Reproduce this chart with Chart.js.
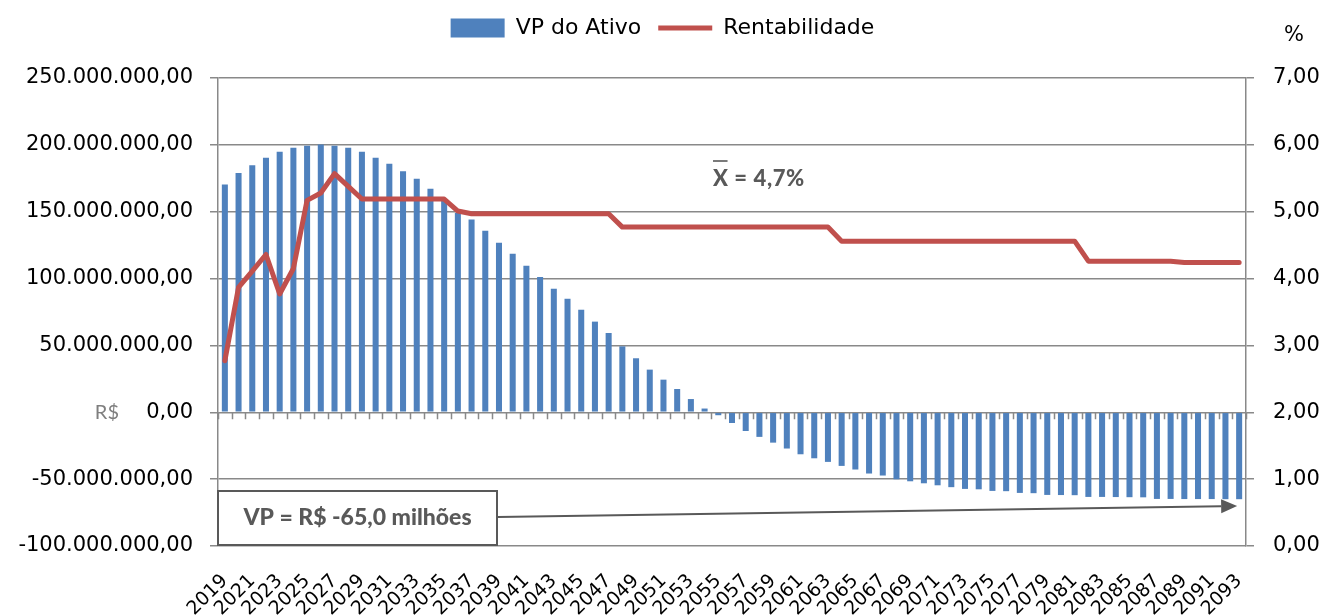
<!DOCTYPE html>
<html lang="pt-BR">
<head>
<meta charset="utf-8">
<title>VP do Ativo e Rentabilidade</title>
<script src="https://cdn.jsdelivr.net/npm/chart.js@4.4.1/dist/chart.umd.min.js"></script>
<style>
    html, body { margin: 0; padding: 0; background: #ffffff; }
    #wrap { width: 1325px; height: 615px; }
</style>
</head>
<body>
<div id="wrap"><canvas id="grafico" width="1325" height="615"></canvas></div>
<script>
const anos = [
    '2019', '2020', '2021', '2022', '2023', '2024', '2025', '2026', '2027', '2028',
    '2029', '2030', '2031', '2032', '2033', '2034', '2035', '2036', '2037', '2038',
    '2039', '2040', '2041', '2042', '2043', '2044', '2045', '2046', '2047', '2048',
    '2049', '2050', '2051', '2052', '2053', '2054', '2055', '2056', '2057', '2058',
    '2059', '2060', '2061', '2062', '2063', '2064', '2065', '2066', '2067', '2068',
    '2069', '2070', '2071', '2072', '2073', '2074', '2075', '2076', '2077', '2078',
    '2079', '2080', '2081', '2082', '2083', '2084', '2085', '2086', '2087', '2088',
    '2089', '2090', '2091', '2092', '2093',
];

// VP do Ativo, em milhoes de R$
const vpAtivo = [
    170.4, 178.9, 184.8, 190.4, 194.8, 197.8, 199.3, 200.3, 199.3, 197.8,
    194.8, 190.4, 185.9, 180.3, 174.7, 167.2, 158.0, 149.0, 144.2, 135.8,
    126.8, 118.6, 109.6, 101.1, 92.4, 84.9, 76.7, 67.8, 59.3, 49.3,
    40.4, 31.9, 24.4, 17.4, 9.9, 2.8, -2.2, -8.0, -14.0, -18.4,
    -22.7, -27.1, -31.4, -34.4, -37.1, -40.1, -42.8, -45.8, -47.3, -50.1,
    -51.6, -53.1, -54.6, -56.0, -57.3, -57.6, -58.8, -59.0, -60.3, -60.5,
    -61.8, -61.9, -62.0, -63.3, -63.3, -63.4, -63.5, -63.6, -64.8, -64.8,
    -64.9, -64.9, -64.9, -65.0, -65.0,
];

// Rentabilidade anual, em %
const rentabilidade = [
    2.77, 3.87, 4.11, 4.36, 3.77, 4.15, 5.17, 5.28, 5.57, 5.38,
    5.19, 5.19, 5.19, 5.19, 5.19, 5.19, 5.19, 5.01, 4.97, 4.97,
    4.97, 4.97, 4.97, 4.97, 4.97, 4.97, 4.97, 4.97, 4.97, 4.77,
    4.77, 4.77, 4.77, 4.77, 4.77, 4.77, 4.77, 4.77, 4.77, 4.77,
    4.77, 4.77, 4.77, 4.77, 4.77, 4.56, 4.56, 4.56, 4.56, 4.56,
    4.56, 4.56, 4.56, 4.56, 4.56, 4.56, 4.56, 4.56, 4.56, 4.56,
    4.56, 4.56, 4.56, 4.26, 4.26, 4.26, 4.26, 4.26, 4.26, 4.26,
    4.24, 4.24, 4.24, 4.24, 4.24,
];

const mediaRentabilidade = '4,7%';
const vpFinal = 'VP = R$ -65,0 milhões';

const AZUL = '#4F81BD';
const VERMELHO = '#C0504D';
const GRADE = '#898989';
const CINZA_TEXTO = '#595959';

function formatoReais(valor) {
    const inteiro = Math.round(Math.abs(valor) * 1e6).toString().replace(/\B(?=(\d{3})+(?!\d))/g, '.');

    return (valor < 0 ? '-' : '') + inteiro + ',00';
}

function formatoPercentual(valor) {
    return Number(valor).toFixed(2).replace('.', ',');
}

// legenda com altura fixa para alinhar a area do grafico
const alturaLegenda = {
    id: 'alturaLegenda',
    beforeInit(chart) {
        const fitOriginal = chart.legend.fit;

        chart.legend.fit = function () {
            fitOriginal.call(this);
            this.height = 78;
        };
    },
};

// pequenas marcas na linha do zero, entre as categorias
const marcasZero = {
    id: 'marcasZero',
    beforeDatasetsDraw(chart) {
        const { ctx, chartArea, scales } = chart;
        const y0 = scales.y.getPixelForValue(0);
        const passo = (chartArea.right - chartArea.left) / anos.length;

        ctx.save();
        ctx.strokeStyle = GRADE;
        ctx.lineWidth = 1.5;
        ctx.beginPath();
        for (let k = 0; k <= anos.length; k++) {
            const px = Math.round(chartArea.left + k * passo) + 0.5;
            ctx.moveTo(px, y0);
            ctx.lineTo(px, y0 + 7);
        }
        ctx.stroke();
        ctx.restore();
    },
};

// textos avulsos: unidades, media e caixa do VP final com seta
const anotacoes = {
    id: 'anotacoes',
    afterDraw(chart) {
        const { ctx, chartArea, scales } = chart;
        const y0 = scales.y.getPixelForValue(0);

        ctx.save();

        ctx.fillStyle = '#7f7f7f';
        ctx.font = '20px Lato';
        ctx.textAlign = 'right';
        ctx.textBaseline = 'middle';
        ctx.fillText('R$', 119, y0);

        ctx.fillStyle = '#000000';
        ctx.font = '21px "DejaVu Sans"';
        ctx.textAlign = 'center';
        ctx.fillText('%', 1294, 36);

        // media da rentabilidade
        const xMedia = 713;
        const yMedia = 186;
        ctx.fillStyle = CINZA_TEXTO;
        ctx.font = '900 22px Lato';
        ctx.textAlign = 'left';
        ctx.textBaseline = 'alphabetic';
        ctx.letterSpacing = '0.6px';
        ctx.fillText('X = ' + mediaRentabilidade, xMedia, yMedia);
        const larguraX = ctx.measureText('X').width;
        ctx.letterSpacing = '0px';
        ctx.strokeStyle = CINZA_TEXTO;
        ctx.lineWidth = 1.6;
        ctx.beginPath();
        ctx.moveTo(xMedia, yMedia - 25);
        ctx.lineTo(xMedia + larguraX - 1, yMedia - 25);
        ctx.stroke();

        // caixa do VP final
        const caixa = { x: chartArea.left, y: 491, w: 279, h: 54 };
        ctx.fillStyle = '#ffffff';
        ctx.fillRect(caixa.x, caixa.y, caixa.w, caixa.h);
        ctx.lineWidth = 2;
        ctx.strokeStyle = CINZA_TEXTO;
        ctx.strokeRect(caixa.x, caixa.y, caixa.w, caixa.h);
        ctx.fillStyle = CINZA_TEXTO;
        ctx.font = '900 23px Lato';
        ctx.textAlign = 'center';
        ctx.textBaseline = 'middle';
        ctx.fillText(vpFinal, caixa.x + caixa.w / 2, caixa.y + caixa.h / 2);

        // seta ate a ultima barra
        const xIni = caixa.x + caixa.w + 1;
        const yIni = 517;
        const xFim = scales.x.getPixelForValue(anos.length - 1) - 2;
        const yFim = scales.y.getPixelForValue(-70);
        const ang = Math.atan2(yFim - yIni, xFim - xIni);
        const comp = 16;
        const meia = 7;
        const xBase = xFim - comp * Math.cos(ang);
        const yBase = yFim - comp * Math.sin(ang);

        ctx.strokeStyle = CINZA_TEXTO;
        ctx.lineWidth = 2;
        ctx.beginPath();
        ctx.moveTo(xIni, yIni);
        ctx.lineTo(xBase, yBase);
        ctx.stroke();

        ctx.fillStyle = CINZA_TEXTO;
        ctx.beginPath();
        ctx.moveTo(xFim, yFim);
        ctx.lineTo(xBase - meia * Math.sin(ang), yBase + meia * Math.cos(ang));
        ctx.lineTo(xBase + meia * Math.sin(ang), yBase - meia * Math.cos(ang));
        ctx.closePath();
        ctx.fill();

        ctx.restore();
    },
};

const fonteEixo = { family: '"DejaVu Sans", Verdana, sans-serif', size: 21 };

new Chart(document.getElementById('grafico'), {
    type: 'bar',
    data: {
        labels: anos,
        datasets: [
            {
                type: 'bar',
                label: 'VP do Ativo',
                data: vpAtivo,
                yAxisID: 'y',
                backgroundColor: AZUL,
                borderWidth: 0,
                categoryPercentage: 1,
                barPercentage: 0.44,
                pointStyle: 'rect',
                order: 1,
            },
            {
                type: 'line',
                label: 'Rentabilidade',
                data: rentabilidade,
                yAxisID: 'y1',
                borderColor: VERMELHO,
                backgroundColor: VERMELHO,
                borderWidth: 5,
                borderJoinStyle: 'round',
                borderCapStyle: 'round',
                pointRadius: 0,
                pointStyle: 'line',
                tension: 0,
                fill: false,
                order: 0,
            },
        ],
    },
    options: {
        responsive: false,
        animation: false,
        layout: { padding: 0 },
        plugins: {
            legend: {
                position: 'top',
                labels: {
                    usePointStyle: true,
                    pointStyleWidth: 54,
                    boxHeight: 19,
                    padding: 17,
                    color: '#000000',
                    font: { family: '"DejaVu Sans", Verdana, sans-serif', size: 22 },
                    sort: (a, b) => a.datasetIndex - b.datasetIndex,
                },
            },
            tooltip: { enabled: false },
        },
        scales: {
            x: {
                position: 'bottom',
                grid: { display: false, drawTicks: false },
                border: { display: false },
                ticks: {
                    autoSkip: false,
                    minRotation: 45,
                    maxRotation: 45,
                    padding: 24,
                    color: '#000000',
                    font: { family: '"DejaVu Sans", Verdana, sans-serif', size: 19 },
                    callback(valor, indice) {
                        return indice % 2 === 0 ? anos[indice] : '';
                    },
                },
                afterFit(escala) {
                    escala.height = 69;
                },
            },
            y: {
                position: 'left',
                min: -100,
                max: 250,
                ticks: {
                    stepSize: 50,
                    padding: 17,
                    color: '#000000',
                    font: fonteEixo,
                    callback: formatoReais,
                },
                grid: { color: GRADE, lineWidth: 1.5, tickLength: 8 },
                border: { color: GRADE, width: 1.5 },
                afterFit(escala) {
                    escala.width = 218;
                },
            },
            y1: {
                position: 'right',
                min: 0,
                max: 7,
                ticks: {
                    stepSize: 1,
                    padding: 19,
                    color: '#000000',
                    font: fonteEixo,
                    callback: formatoPercentual,
                },
                grid: { drawOnChartArea: false, color: GRADE, lineWidth: 1.5, tickLength: 8 },
                border: { color: GRADE, width: 1.5 },
                afterFit(escala) {
                    escala.width = 79;
                },
            },
        },
    },
    plugins: [alturaLegenda, marcasZero, anotacoes],
});
</script>
</body>
</html>
